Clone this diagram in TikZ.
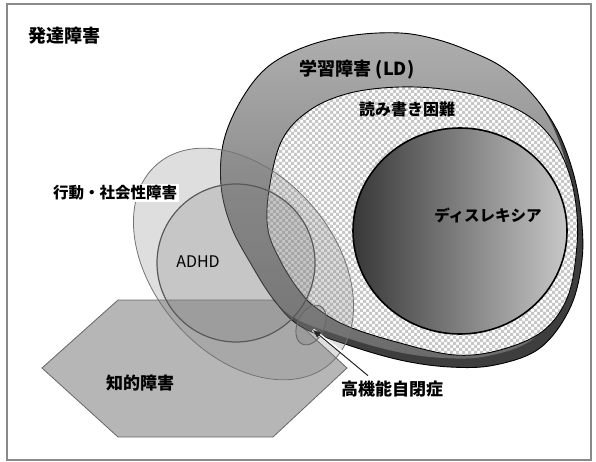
\documentclass[tikz,border=0pt]{standalone}
\usepackage{fontspec}
\newfontfamily\jp{Noto Sans CJK JP}
\usetikzlibrary{patterns,shapes.geometric,arrows.meta}
\pgfdeclarepatternformonly{chk}{\pgfqpoint{-0.1pt}{-0.1pt}}{\pgfqpoint{6.1pt}{6.1pt}}{\pgfqpoint{6pt}{6pt}}{%
  \pgfpathrectangle{\pgfqpoint{0pt}{0pt}}{\pgfqpoint{3.05pt}{3.05pt}}%
  \pgfpathrectangle{\pgfqpoint{3pt}{3pt}}{\pgfqpoint{3.05pt}{3.05pt}}%
  \pgfusepath{fill}}
\definecolor{ldtop}{HTML}{B0B0B0}
\definecolor{ldbot}{HTML}{6A6A6A}
\definecolor{rim}{HTML}{3E3E3E}
\definecolor{hexfill}{HTML}{B6B6B6}
\definecolor{frame}{HTML}{8A8A8A}
\tikzset{
  lbl/.style={font=\jp\bfseries, text=black, inner sep=1pt},
  overlay1/.style={fill=black!50, fill opacity=0.26},
}
\begin{document}
\begin{tikzpicture}[x=1pt,y=-1pt]
\useasboundingbox (0,0) rectangle (596,462);
\fill[white] (0,0) rectangle (596,462);
\draw[frame, line width=1.3pt] (7,4) rectangle (591,460);

\node[lbl, font=\jp\bfseries\fontsize{18}{20}\selectfont] (title) at (64,36) {発達障害};

% hexagon
\draw[fill=hexfill, draw=black!60, line width=0.8pt] (42,368) -- (118,300) -- (273,300) -- (347,368) -- (273,437) -- (118,437) -- cycle;

% LD shape
\def\ldpath{plot[smooth cycle, tension=0.6] coordinates {(400,33) (435,39) (467,50) (502,67) (533,95) (557,130) (573,172) (581,215) (582,260) (570,308) (540,348) (495,365) (450,367) (400,360) (345,344) (300,326) (274,300) (251,264) (231,226) (221,185) (224,140) (243,97) (270,65) (310,45) (355,35)}}
\fill[rim] \ldpath;
\begin{scope}
  \clip \ldpath;
  \shade[top color=ldtop, bottom color=ldbot, shift={(-7,-9)}] \ldpath;
\end{scope}
\draw[black, line width=0.9pt] \ldpath;

% checker area
\def\chkpath{plot[smooth cycle, tension=0.6] coordinates {(400,87) (450,90) (497,101) (530,117) (553,140) (568,170) (576,205) (577,245) (568,296) (543,331) (500,350) (455,355) (400,343) (347,326) (315,307) (298,289) (281,262) (268,230) (269,190) (282,140) (310,110) (350,93)}}
\fill[white] \chkpath;
\fill[pattern=chk, pattern color=black!22] \chkpath;
\draw[black, line width=0.9pt] \chkpath;

% dyslexia
\shade[left color=black!78, right color=black!22] (460,231) ellipse [x radius=107, y radius=103];
\draw[black, line width=1.6pt] (460,231) ellipse [x radius=107, y radius=103];

% behaviour ellipse
\fill[overlay1, rotate around={-49:(243.5,264)}] (243.5,264) ellipse [x radius=132, y radius=90];
\draw[black!55, line width=0.8pt, rotate around={-49:(243.5,264)}] (243.5,264) ellipse [x radius=132, y radius=90];

% ADHD circle
\fill[overlay1, fill opacity=0.25] (236,263) circle [radius=79];
\draw[black!65, line width=1.2pt] (236,263) circle [radius=79];

% high-functioning autism ellipse
\node[ellipse, rotate=65, minimum width=42pt, minimum height=27pt, inner sep=0pt,
      fill=black!50, fill opacity=0.3, draw=black!60, line width=0.9pt] (hfa) at (311,325) {};
\coordinate (tip) at (313,330);

% labels
\node[lbl, font=\jp\bfseries\fontsize{18}{20}\selectfont] (ld) at (357,70) {学習障害 (LD)};
\node[lbl, font=\jp\bfseries\fontsize{16}{18}\selectfont] (rw) at (407,109) {読み書き困難};
\node[lbl, font=\jp\bfseries\fontsize{15.5}{17}\selectfont] (dys) at (488,215) {ディスレキシア};
\node[lbl, fill=white, inner sep=1.5pt, font=\jp\bfseries\fontsize{15.5}{17}\selectfont] (beh) at (115,193) {行動・社会性障害};
\node[lbl, font=\jp\fontsize{16}{18}\selectfont] (adhd) at (198,262) {ADHD};
\node[lbl, font=\jp\bfseries\fontsize{17}{19}\selectfont] (id) at (140,383) {知的障害};
\node[lbl, font=\jp\bfseries\fontsize{17}{19}\selectfont] (hfalbl) at (392,389) {高機能自閉症};

% arrow
\draw[white, line width=3pt] ([xshift=-22pt,yshift=6pt]hfalbl.north) -- (tip);
\draw[black!85, line width=1pt, -{Triangle[length=8pt,width=6pt]}] ([xshift=-24pt,yshift=4pt]hfalbl.north) -- (tip);
\end{tikzpicture}
\end{document}
